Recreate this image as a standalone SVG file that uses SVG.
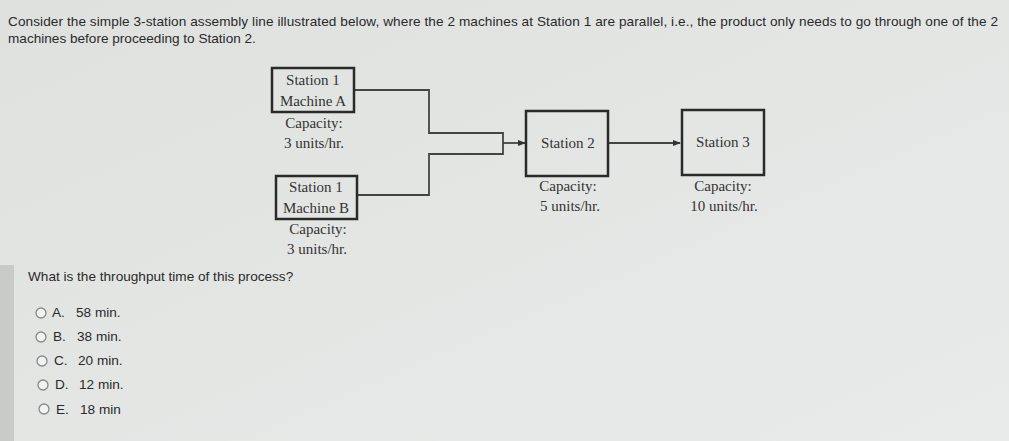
<svg xmlns="http://www.w3.org/2000/svg" width="1009" height="441" viewBox="0 0 1009 441">
<defs>
<marker id="arr" markerWidth="8" markerHeight="8" refX="7" refY="4" orient="auto" markerUnits="userSpaceOnUse"><path d="M0,1 L8,4 L0,7 z" fill="#333"/></marker>
<linearGradient id="bg" x1="0" y1="0" x2="1" y2="1"><stop offset="0" stop-color="#dfe1df"/><stop offset="1" stop-color="#e9ebea"/></linearGradient>
</defs>
<style>
.q{font-family:"Liberation Sans",Arial,sans-serif;font-size:13.6px;fill:#2a2a2a}
.s{font-family:"Liberation Serif","Times New Roman",serif;font-size:15px;fill:#333;text-anchor:middle}
.box{fill:none;stroke:#2a2a2a;stroke-width:2.5}
.ln{fill:none;stroke:#444;stroke-width:1.8}
.rad{fill:#f2f2f2;stroke:#888;stroke-width:1.3}
</style>
<rect width="1009" height="441" fill="url(#bg)"/>
<rect x="0" y="265" width="14" height="176" fill="#c9cbc9"/>
<text class="q" x="8" y="26" textLength="990">Consider the simple 3-station assembly line illustrated below, where the 2 machines at Station 1 are parallel, i.e., the product only needs to go through one of the 2</text>
<text class="q" x="8" y="43">machines before proceeding to Station 2.</text>
<g id="connectors">
<polyline class="ln" points="354,90 429,90 429,133 503,133 503,154 429,154 429,195 357,195"/>
<line class="ln" x1="503" y1="143" x2="525" y2="143" marker-end="url(#arr)"/>
<line class="ln" x1="608" y1="143" x2="680" y2="143" marker-end="url(#arr)"/>
</g>
<g id="machineA"><rect class="box" x="272" y="68" width="82" height="44"/><text class="s" x="313" y="85">Station 1</text><text class="s" x="313" y="106">Machine A</text><text class="s" x="314" y="128">Capacity:</text><text class="s" x="314" y="148">3 units/hr.</text></g>
<g id="machineB"><rect class="box" x="276" y="176" width="81" height="43"/><text class="s" x="316" y="192">Station 1</text><text class="s" x="316" y="213">Machine B</text><text class="s" x="318" y="234">Capacity:</text><text class="s" x="317" y="254">3 units/hr.</text></g>
<g id="station2"><rect class="box" x="526" y="111" width="82" height="65"/><text class="s" x="568" y="148">Station 2</text><text class="s" x="568" y="191">Capacity:</text><text class="s" x="570" y="211">5 units/hr.</text></g>
<g id="station3"><rect class="box" x="682" y="110" width="82" height="65"/><text class="s" x="723" y="147">Station 3</text><text class="s" x="723" y="191">Capacity:</text><text class="s" x="724" y="211">10 units/hr.</text></g>
<text class="q" x="28" y="281">What is the throughput time of this process?</text>
<g id="options">
<circle class="rad" cx="41" cy="313" r="5"/><text class="q" x="52" y="317">A.</text><text class="q" x="76" y="317">58 min.</text>
<circle class="rad" cx="41" cy="337" r="5"/><text class="q" x="53" y="341">B.</text><text class="q" x="77" y="341">38 min.</text>
<circle class="rad" cx="42" cy="361" r="5"/><text class="q" x="54" y="365">C.</text><text class="q" x="78" y="365">20 min.</text>
<circle class="rad" cx="43" cy="385" r="5"/><text class="q" x="55" y="389">D.</text><text class="q" x="79" y="389">12 min.</text>
<circle class="rad" cx="44" cy="409" r="5"/><text class="q" x="56" y="414">E.</text><text class="q" x="80" y="414">18 min</text>
</g>
</svg>
